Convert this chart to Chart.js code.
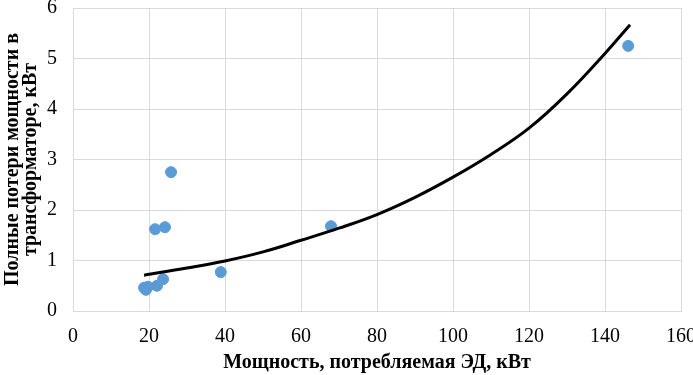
<!DOCTYPE html>
<html>
<head>
<meta charset="utf-8">
<script src="https://cdn.jsdelivr.net/npm/chart.js@4.4.1/dist/chart.umd.min.js"></script>
<style>
  html, body { margin: 0; padding: 0; background: #fff; }
  #wrap { width: 693px; height: 375px; }
</style>
</head>
<body>
<div id="wrap"><canvas id="chart" width="693" height="375"></canvas></div>
<script>
// измеренные точки
const pointsX = [146.1, 25.8, 21.6, 24.2, 67.9, 38.9, 23.7, 22.1, 19.7, 18.7, 19.2];
const pointsY = [5.25, 2.75, 1.62, 1.66, 1.68, 0.77, 0.63, 0.50, 0.48, 0.46, 0.42];

// линия тренда
const trendX = [18.7, 30, 40, 50, 60, 70, 80, 90, 100, 110, 120, 130, 140, 146.6];
const trendY = [0.71, 0.85, 0.99, 1.17, 1.40, 1.64, 1.91, 2.25, 2.65, 3.10, 3.62, 4.30, 5.10, 5.67];

const xTicks = [0, 20, 40, 60, 80, 100, 120, 140, 160];
const yTicks = [0, 1, 2, 3, 4, 5, 6];

const xTitle = 'Мощность, потребляемая ЭД, кВт';
const yTitle = ['Полные потери мощности в', 'трансформаторе, кВт'];

const serif = '"Liberation Serif", "Times New Roman", serif';
const gridColor = '#d9d9d9';

const ctx = document.getElementById('chart').getContext('2d');
new Chart(ctx, {
  type: 'scatter',
  data: {
    datasets: [
      {
        type: 'line',
        data: trendX.map((x, i) => ({ x, y: trendY[i] })),
        borderColor: '#000',
        borderWidth: 3,
        pointRadius: 0,
        fill: false,
        tension: 0.4,
        order: 0
      },
      {
        data: pointsX.map((x, i) => ({ x, y: pointsY[i] })),
        backgroundColor: '#5b9bd5',
        borderColor: '#5b9bd5',
        pointRadius: 5.5,
        order: 1
      }
    ]
  },
  options: {
    responsive: false,
    animation: false,
    layout: { padding: 0 },
    plugins: { legend: { display: false }, tooltip: { enabled: false } },
    scales: {
      x: {
        type: 'linear',
        min: 0, max: 160,
        afterBuildTicks: s => { s.ticks = xTicks.map(v => ({ value: v })); },
        afterFit: s => { s.height = 64; s.paddingRight = 12; s.paddingLeft = 0; },
        grid: { color: gridColor, drawTicks: false },
        border: { color: gridColor },
        ticks: { color: '#000', padding: 14, font: { family: serif, size: 20 } },
        title: {
          display: true, text: xTitle, color: '#000', padding: { top: 2, bottom: 0 },
          font: { family: serif, size: 20, weight: 'bold' }
        }
      },
      y: {
        min: 0, max: 6,
        afterBuildTicks: s => { s.ticks = yTicks.map(v => ({ value: v })); },
        afterFit: s => { s.width = 73; s.paddingTop = 8; s.paddingBottom = 0; },
        grid: { color: gridColor, drawTicks: false },
        border: { color: gridColor },
        ticks: { color: '#000', padding: 16, font: { family: serif, size: 20 } },
        title: {
          display: true, text: yTitle, color: '#000', padding: { top: 4, bottom: 4 },
          font: { family: serif, size: 20, weight: 'bold', lineHeight: 0.9 }
        }
      }
    }
  }
});
</script>
</body>
</html>
